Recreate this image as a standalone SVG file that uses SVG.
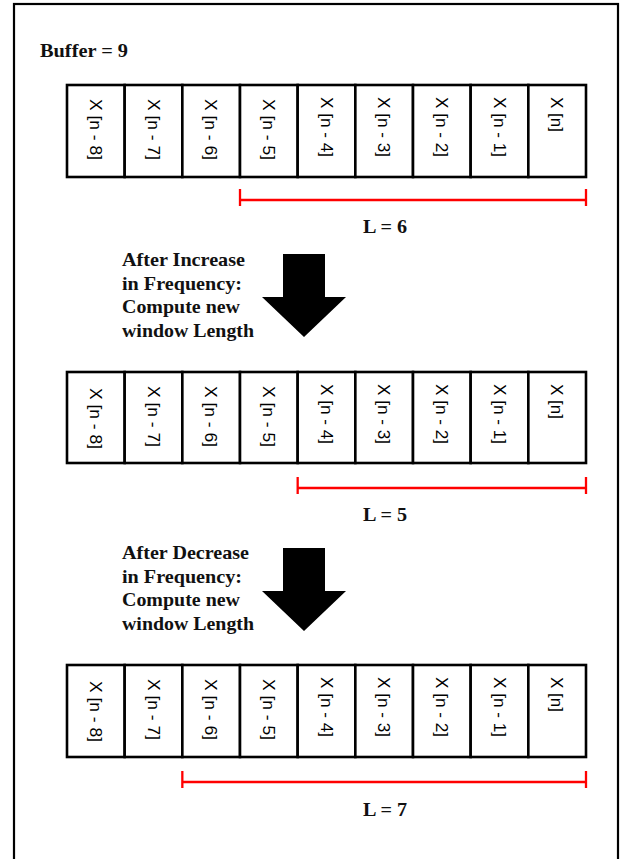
<svg xmlns="http://www.w3.org/2000/svg" width="625" height="859" viewBox="0 0 625 859">
<style>
.frame{fill:#fff;stroke:#000;stroke-width:2.2}
.cell rect{fill:#fff;stroke:#000;stroke-width:2.6}
.cell text{font-family:"Liberation Sans",Arial,sans-serif;font-size:17px;fill:#000}
.lbl{font-family:"Liberation Serif","Times New Roman",serif;font-weight:bold;font-size:19px;fill:#111}
.range{stroke:#f00;stroke-width:2.3;fill:none}
.blk{fill:#000}
</style>
<defs>
<g id="tick"><line x1="0" y1="-11" x2="0" y2="6" class="range"/></g>
</defs>
<rect class="frame" x="14" y="4" width="604" height="880"/>
<g id="title"><text class="lbl" x="40" y="57" font-size="20" textLength="88" lengthAdjust="spacingAndGlyphs">Buffer = 9</text></g>

<!-- Row 1 -->
<g id="row1">
<g id="r1c0" class="cell"><rect x="67" y="85" width="57.67" height="92"/><text transform="translate(95.8,99) rotate(90)" dy="0.35em" textLength="61" lengthAdjust="spacingAndGlyphs">X [n - 8]</text></g>
<g id="r1c1" class="cell"><rect x="124.67" y="85" width="57.67" height="92"/><text transform="translate(153.5,99) rotate(90)" dy="0.35em" textLength="61" lengthAdjust="spacingAndGlyphs">X [n - 7]</text></g>
<g id="r1c2" class="cell"><rect x="182.33" y="85" width="57.67" height="92"/><text transform="translate(211.2,99) rotate(90)" dy="0.35em" textLength="61" lengthAdjust="spacingAndGlyphs">X [n - 6]</text></g>
<g id="r1c3" class="cell"><rect x="240" y="85" width="57.67" height="92"/><text transform="translate(268.8,99) rotate(90)" dy="0.35em" textLength="61" lengthAdjust="spacingAndGlyphs">X [n - 5]</text></g>
<g id="r1c4" class="cell"><rect x="297.67" y="85" width="57.67" height="92"/><text transform="translate(326.5,97) rotate(90)" dy="0.35em" textLength="60" lengthAdjust="spacingAndGlyphs">X [n - 4]</text></g>
<g id="r1c5" class="cell"><rect x="355.33" y="85" width="57.67" height="92"/><text transform="translate(384.2,97) rotate(90)" dy="0.35em" textLength="60" lengthAdjust="spacingAndGlyphs">X [n - 3]</text></g>
<g id="r1c6" class="cell"><rect x="413" y="85" width="57.67" height="92"/><text transform="translate(441.8,97) rotate(90)" dy="0.35em" textLength="60" lengthAdjust="spacingAndGlyphs">X [n - 2]</text></g>
<g id="r1c7" class="cell"><rect x="470.67" y="85" width="57.67" height="92"/><text transform="translate(499.5,97) rotate(90)" dy="0.35em" textLength="60" lengthAdjust="spacingAndGlyphs">X [n - 1]</text></g>
<g id="r1c8" class="cell"><rect x="528.33" y="85" width="57.67" height="92"/><text transform="translate(557.2,97) rotate(90)" dy="0.35em" textLength="35" lengthAdjust="spacingAndGlyphs">X [n]</text></g>
</g>
<g id="range1"><line class="range" x1="240" y1="200" x2="586" y2="200"/><use href="#tick" x="240" y="200"/><use href="#tick" x="586" y="200"/></g>
<g id="len1"><text class="lbl" x="363" y="233" textLength="44" lengthAdjust="spacingAndGlyphs">L = 6</text></g>

<g id="note1">
<text class="lbl" x="122" y="266" textLength="123" lengthAdjust="spacingAndGlyphs">After Increase</text>
<text class="lbl" x="122" y="289.5" textLength="120" lengthAdjust="spacingAndGlyphs">in Frequency:</text>
<text class="lbl" x="122" y="313" textLength="118" lengthAdjust="spacingAndGlyphs">Compute new</text>
<text class="lbl" x="122" y="336.5" textLength="132" lengthAdjust="spacingAndGlyphs">window Length</text>
</g>

<!-- Row 2 -->
<g id="row2">
<g id="r2c0" class="cell"><rect x="67" y="372" width="57.67" height="91"/><text transform="translate(95.8,388) rotate(90)" dy="0.35em" textLength="61" lengthAdjust="spacingAndGlyphs">X [n - 8]</text></g>
<g id="r2c1" class="cell"><rect x="124.67" y="372" width="57.67" height="91"/><text transform="translate(153.5,386) rotate(90)" dy="0.35em" textLength="61" lengthAdjust="spacingAndGlyphs">X [n - 7]</text></g>
<g id="r2c2" class="cell"><rect x="182.33" y="372" width="57.67" height="91"/><text transform="translate(211.2,386) rotate(90)" dy="0.35em" textLength="61" lengthAdjust="spacingAndGlyphs">X [n - 6]</text></g>
<g id="r2c3" class="cell"><rect x="240" y="372" width="57.67" height="91"/><text transform="translate(268.8,386) rotate(90)" dy="0.35em" textLength="61" lengthAdjust="spacingAndGlyphs">X [n - 5]</text></g>
<g id="r2c4" class="cell"><rect x="297.67" y="372" width="57.67" height="91"/><text transform="translate(326.5,384) rotate(90)" dy="0.35em" textLength="60" lengthAdjust="spacingAndGlyphs">X [n - 4]</text></g>
<g id="r2c5" class="cell"><rect x="355.33" y="372" width="57.67" height="91"/><text transform="translate(384.2,384) rotate(90)" dy="0.35em" textLength="60" lengthAdjust="spacingAndGlyphs">X [n - 3]</text></g>
<g id="r2c6" class="cell"><rect x="413" y="372" width="57.67" height="91"/><text transform="translate(441.8,384) rotate(90)" dy="0.35em" textLength="60" lengthAdjust="spacingAndGlyphs">X [n - 2]</text></g>
<g id="r2c7" class="cell"><rect x="470.67" y="372" width="57.67" height="91"/><text transform="translate(499.5,384) rotate(90)" dy="0.35em" textLength="60" lengthAdjust="spacingAndGlyphs">X [n - 1]</text></g>
<g id="r2c8" class="cell"><rect x="528.33" y="372" width="57.67" height="91"/><text transform="translate(557.2,384) rotate(90)" dy="0.35em" textLength="35" lengthAdjust="spacingAndGlyphs">X [n]</text></g>
</g>
<g id="range2"><line class="range" x1="297.67" y1="488" x2="586" y2="488"/><use href="#tick" x="297.67" y="488"/><use href="#tick" x="586" y="488"/></g>
<g id="len2"><text class="lbl" x="363" y="521" textLength="44" lengthAdjust="spacingAndGlyphs">L = 5</text></g>

<g id="note2">
<text class="lbl" x="122" y="559" textLength="127" lengthAdjust="spacingAndGlyphs">After Decrease</text>
<text class="lbl" x="122" y="583" textLength="120" lengthAdjust="spacingAndGlyphs">in Frequency:</text>
<text class="lbl" x="122" y="606" textLength="118" lengthAdjust="spacingAndGlyphs">Compute new</text>
<text class="lbl" x="122" y="629.5" textLength="132" lengthAdjust="spacingAndGlyphs">window Length</text>
</g>

<!-- Row 3 -->
<g id="row3">
<g id="r3c0" class="cell"><rect x="67" y="665" width="57.67" height="92"/><text transform="translate(95.8,681) rotate(90)" dy="0.35em" textLength="61" lengthAdjust="spacingAndGlyphs">X [n - 8]</text></g>
<g id="r3c1" class="cell"><rect x="124.67" y="665" width="57.67" height="92"/><text transform="translate(153.5,679) rotate(90)" dy="0.35em" textLength="61" lengthAdjust="spacingAndGlyphs">X [n - 7]</text></g>
<g id="r3c2" class="cell"><rect x="182.33" y="665" width="57.67" height="92"/><text transform="translate(211.2,679) rotate(90)" dy="0.35em" textLength="61" lengthAdjust="spacingAndGlyphs">X [n - 6]</text></g>
<g id="r3c3" class="cell"><rect x="240" y="665" width="57.67" height="92"/><text transform="translate(268.8,679) rotate(90)" dy="0.35em" textLength="61" lengthAdjust="spacingAndGlyphs">X [n - 5]</text></g>
<g id="r3c4" class="cell"><rect x="297.67" y="665" width="57.67" height="92"/><text transform="translate(326.5,677) rotate(90)" dy="0.35em" textLength="60" lengthAdjust="spacingAndGlyphs">X [n - 4]</text></g>
<g id="r3c5" class="cell"><rect x="355.33" y="665" width="57.67" height="92"/><text transform="translate(384.2,677) rotate(90)" dy="0.35em" textLength="60" lengthAdjust="spacingAndGlyphs">X [n - 3]</text></g>
<g id="r3c6" class="cell"><rect x="413" y="665" width="57.67" height="92"/><text transform="translate(441.8,677) rotate(90)" dy="0.35em" textLength="60" lengthAdjust="spacingAndGlyphs">X [n - 2]</text></g>
<g id="r3c7" class="cell"><rect x="470.67" y="665" width="57.67" height="92"/><text transform="translate(499.5,677) rotate(90)" dy="0.35em" textLength="60" lengthAdjust="spacingAndGlyphs">X [n - 1]</text></g>
<g id="r3c8" class="cell"><rect x="528.33" y="665" width="57.67" height="92"/><text transform="translate(557.2,677) rotate(90)" dy="0.35em" textLength="35" lengthAdjust="spacingAndGlyphs">X [n]</text></g>
</g>
<g id="range3"><line class="range" x1="182.33" y1="782" x2="586" y2="782"/><use href="#tick" x="182.33" y="782"/><use href="#tick" x="586" y="782"/></g>
<g id="len3"><text class="lbl" x="363" y="816" textLength="44" lengthAdjust="spacingAndGlyphs">L = 7</text></g>

<g id="connectors">
<polygon class="blk" points="283,254 325,254 325,297 346,297 304,337 262,297 283,297"/>
<polygon class="blk" points="283,548 325,548 325,591 346,591 304,631 262,591 283,591"/>
</g>
</svg>
